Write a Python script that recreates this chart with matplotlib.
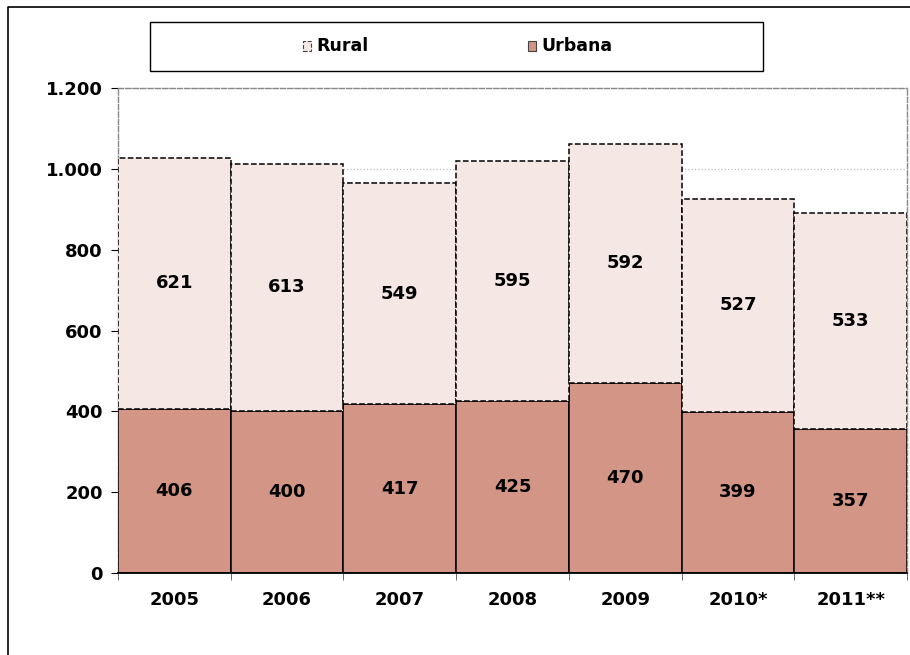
import numpy as np
import matplotlib.pyplot as plt
from matplotlib.patches import Rectangle

years = ['2005', '2006', '2007', '2008', '2009', '2010*', '2011**']
urbana = [406, 400, 417, 425, 470, 399, 357]
rural = [621, 613, 549, 595, 592, 527, 533]
yticks = [0, 200, 400, 600, 800, 1000, 1200]

plt.rcParams['font.family'] = ['DejaVu Sans']
plt.rcParams['font.weight'] = 'bold'

fig = plt.figure(figsize=(9.10, 6.55), dpi=100)
# outer chart border: only top and left edges are inside the picture
fig.add_artist(plt.Line2D([8/910, 8/910, 1.0], [0.0, 1 - 7/655, 1 - 7/655],
                          transform=fig.transFigure, color='black', linewidth=1.2))

ax = fig.add_axes([118/910, 1 - 573/655, 789/910, 485/655])
x = np.arange(len(years))
c_urb = '#D39585'
c_rur = '#F5E8E4'

ax.bar(x, urbana, width=1.0, color=c_urb, edgecolor='black', linewidth=1.1, zorder=3)
ax.bar(x, rural, width=1.0, bottom=urbana, color=c_rur, edgecolor='black',
       linewidth=1.1, linestyle='--', zorder=3)

for i in range(len(years)):
    ax.text(x[i], urbana[i] / 2, str(urbana[i]), ha='center', va='center',
            fontsize=13, fontweight='bold', zorder=5)
    ax.text(x[i], urbana[i] + rural[i] / 2, str(rural[i]), ha='center', va='center',
            fontsize=13, fontweight='bold', zorder=5)

ax.set_xlim(-0.5, len(years) - 0.5)
ax.set_ylim(0, 1200)
ax.set_yticks(yticks)
ax.set_yticklabels([f'{v:,}'.replace(',', '.') for v in yticks], fontsize=13, fontweight='bold')
ax.set_xticks(x)
ax.set_xticklabels(years, fontsize=13, fontweight='bold')
ax.tick_params(axis='x', which='major', length=0, pad=13)
ax.set_xticks(np.arange(len(years) + 1) - 0.5, minor=True)
ax.tick_params(axis='x', which='minor', length=5, direction='out', color='#555555')
ax.tick_params(axis='y', length=5, direction='out', pad=6)

ax.grid(axis='y', color='#bbbbbb', linestyle=':', linewidth=0.9, zorder=0)
ax.set_axisbelow(True)
for side in ['top', 'right', 'left']:
    ax.spines[side].set_linestyle('--')
    ax.spines[side].set_color('#888888')
    ax.spines[side].set_linewidth(1.0)
ax.spines['bottom'].set_color('black')
ax.spines['bottom'].set_linewidth(1.3)
ax.spines['bottom'].set_zorder(6)

# legend box
fig.patches.append(Rectangle((150/910, 1 - 71/655), 613/910, 49/655, transform=fig.transFigure,
                             facecolor='white', edgecolor='black', linewidth=1.0))
fig.patches.append(Rectangle((303/910, 1 - 51/655), 8/910, 10/655, transform=fig.transFigure,
                             facecolor=c_rur, edgecolor='#444444', linewidth=0.8, linestyle='--'))
fig.patches.append(Rectangle((528/910, 1 - 51/655), 8/910, 10/655, transform=fig.transFigure,
                             facecolor=c_urb, edgecolor='#444444', linewidth=0.8))
fig.text(316/910, 1 - 46/655, 'Rural', ha='left', va='center', fontsize=12.5, fontweight='bold')
fig.text(541/910, 1 - 46/655, 'Urbana', ha='left', va='center', fontsize=12.5, fontweight='bold')

fig.savefig('out.png', dpi=100)
